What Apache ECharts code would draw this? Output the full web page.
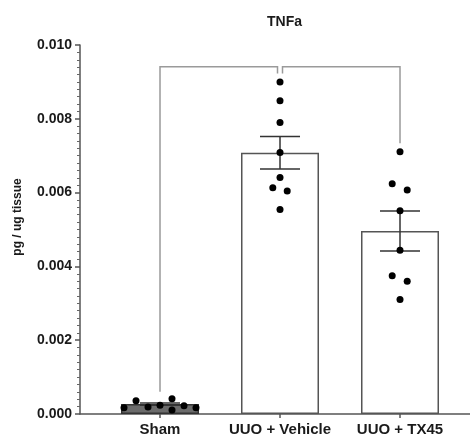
<!DOCTYPE html>
<html>
<head>
<meta charset="utf-8">
<script src="https://cdn.jsdelivr.net/npm/echarts@6/dist/echarts.min.js"></script>
<style>html,body{margin:0;padding:0;background:#fff}#c{width:470px;height:439px}</style>
</head>
<body>
<div id="c"></div>
<script>
// ---- data ----
const categories = ['Sham', 'UUO + Vehicle', 'UUO + TX45'];
const means = [0.00027, 0.00708, 0.00496];
const sems = [0.00003, 0.00044, 0.00054];
const shamPoints = [0.00017, 0.00036, 0.00019, 0.00024, 0.00041, 0.00011, 0.000225, 0.00017];
const vehiclePoints = [0.00900, 0.00849, 0.00790, 0.00709, 0.00641, 0.00613, 0.00604, 0.00554];
const tx45Points = [0.00711, 0.00624, 0.00607, 0.00551, 0.00444, 0.00375, 0.00360, 0.00310];
// horizontal jitter of points (in category units)
const shamJitter = [-0.3, -0.2, -0.1, 0, 0.1, 0.1, 0.2, 0.3];
const vehicleJitter = [0, 0, 0, 0, 0, -0.06, 0.06, 0];
const tx45Jitter = [0, -0.065, 0.06, 0, 0, -0.065, 0.06, 0];
const yTicks = [0, 0.002, 0.004, 0.006, 0.008, 0.010];
// comparison bracket (Sham vs Vehicle, Vehicle vs TX45)
const bracketTop = 0.00941;
const bracketNotch = 0.00923;
const bracketLegLeft = 0.0006;
const bracketLegRight = 0.00734;

const font = "'Liberation Sans', Arial, sans-serif";
const chart = echarts.init(document.getElementById('c'), null, {renderer: 'canvas'});

function pts(vals, jit, idx) {
  return vals.map((v, i) => [idx + jit[i], v]);
}

chart.setOption({
  animation: false,
  backgroundColor: '#fff',
  title: {
    text: 'TNFa', left: 262, top: 10,
    textStyle: {fontFamily: font, fontSize: 14, fontWeight: 'bold', color: '#1a1a1a'}
  },
  grid: {left: 80, right: 0, top: 45, bottom: 25, containLabel: false},
  xAxis: {
    type: 'value', min: -0.6667, max: 2.5833,
    splitLine: {show: false},
    axisLine: {show: true, onZero: false, lineStyle: {color: '#555', width: 1.5}},
    axisTick: {show: true, customValues: [0, 1, 2], length: 4, lineStyle: {color: '#555', width: 1.5}},
    axisLabel: {
      customValues: [0, 1, 2], margin: 8,
      formatter: v => categories[Math.round(v)] || '',
      fontFamily: font, fontSize: 15, fontWeight: 'bold', color: '#1a1a1a'
    }
  },
  yAxis: {
    type: 'value', min: 0, max: 0.010, interval: 0.002,
    name: 'pg / ug tissue', nameLocation: 'middle', nameGap: 56,
    nameTextStyle: {fontFamily: font, fontSize: 12, fontWeight: 'bold', color: '#1a1a1a', padding: [0, 0, 0, 25]},
    splitLine: {show: false},
    axisLine: {show: true, onZero: false, lineStyle: {color: '#555', width: 1.5}},
    axisTick: {show: true, length: 5, lineStyle: {color: '#555', width: 1.5}},
    minorTick: {show: true, splitNumber: 10, length: 3, lineStyle: {color: '#666', width: 1}},
    axisLabel: {
      margin: 8, formatter: v => v.toFixed(3),
      fontFamily: font, fontSize: 14, fontWeight: 'bold', color: '#1a1a1a'
    }
  },
  series: [
    {
      type: 'bar', barWidth: 78, z: 1,
      data: means.map((m, i) => ({
        value: [i, m],
        itemStyle: i === 0
          ? {color: '#6b6b6b', borderColor: '#333', borderWidth: 1.5}
          : {color: '#ffffff', borderColor: '#555', borderWidth: 1.5}
      }))
    },
    {
      type: 'custom', z: 3,
      data: means.map((m, i) => [i, m, sems[i]]),
      renderItem: function (params, api) {
        const x = api.value(0), m = api.value(1), s = api.value(2);
        const top = api.coord([x, m + s]);
        const bot = api.coord([x, m - s]);
        const cw = 20;
        const st = {stroke: '#333', lineWidth: 1.5};
        return {
          type: 'group', children: [
            {type: 'line', shape: {x1: top[0], y1: top[1], x2: bot[0], y2: bot[1]}, style: st},
            {type: 'line', shape: {x1: top[0] - cw, y1: top[1], x2: top[0] + cw, y2: top[1]}, style: st},
            {type: 'line', shape: {x1: bot[0] - cw, y1: bot[1], x2: bot[0] + cw, y2: bot[1]}, style: st}
          ]
        };
      }
    },
    {
      type: 'custom', z: 2,
      data: [[0]],
      renderItem: function (params, api) {
        const a = api.coord([0, bracketLegLeft]);
        const b = api.coord([0, bracketTop]);
        const c = api.coord([1, bracketTop]);
        const d = api.coord([1, bracketNotch]);
        const e = api.coord([2, bracketTop]);
        const f = api.coord([2, bracketLegRight]);
        const g = 2.5;
        const st = {stroke: '#9a9a9a', lineWidth: 1.5, fill: null};
        return {
          type: 'group', children: [
            {type: 'polyline', shape: {points: [a, b, [c[0] - g, c[1]], [c[0] - g, d[1]]]}, style: st},
            {type: 'polyline', shape: {points: [[c[0] + g, d[1]], [c[0] + g, c[1]], e, f]}, style: st}
          ]
        };
      }
    },
    {
      type: 'scatter', z: 4, symbol: 'circle', symbolSize: 7,
      itemStyle: {color: '#000', opacity: 1},
      data: pts(shamPoints, shamJitter, 0)
        .concat(pts(vehiclePoints, vehicleJitter, 1))
        .concat(pts(tx45Points, tx45Jitter, 2))
    }
  ]
});
</script>
</body>
</html>
